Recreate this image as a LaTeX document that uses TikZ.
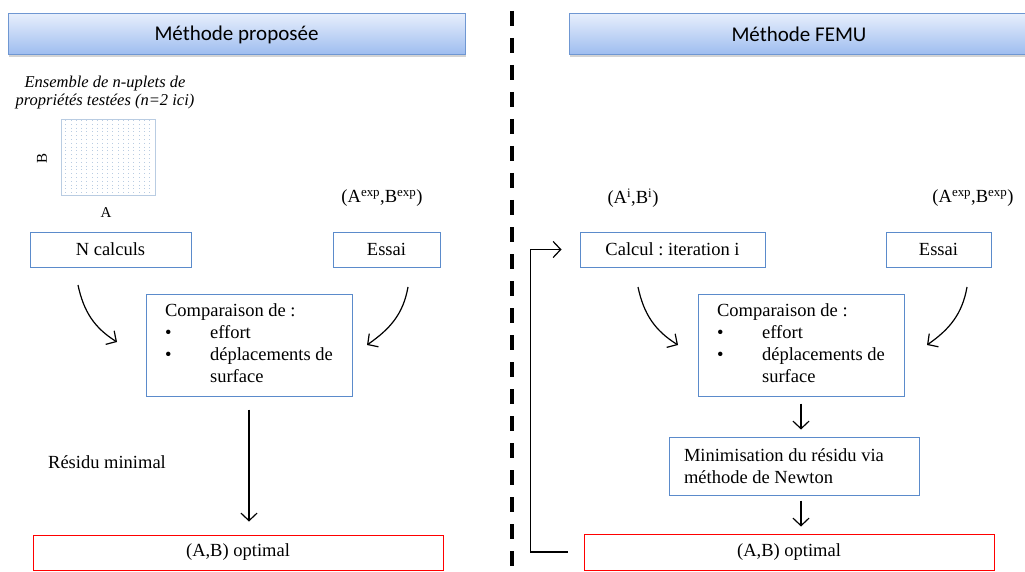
\documentclass[tikz,border=0pt]{standalone}
\usepackage{fontspec}
\setmainfont{Liberation Serif}
\newfontfamily\headfont{Carlito}
\usetikzlibrary{arrows.meta,shadows}
\frenchspacing

\definecolor{titleedge}{HTML}{6F97D2}
\definecolor{titletop}{HTML}{E6EEFC}
\definecolor{titlebot}{HTML}{9DBCEF}
\definecolor{boxblue}{HTML}{5B8BCB}
\definecolor{gridblue}{HTML}{B9CCE2}

\tikzset{
  titlebar/.style={draw=titleedge, line width=1pt, top color=titletop, bottom color=titlebot,
    minimum width=457pt, minimum height=41pt,
    drop shadow={shadow xshift=1pt, shadow yshift=-2.5pt, opacity=0.35},
    font=\headfont\fontsize{21}{25}\selectfont},
  box/.style={draw=boxblue, line width=1pt, fill=white, inner sep=0pt,
    font=\fontsize{18.5}{22}\selectfont},
  redbox/.style={box, draw=red},
  label/.style={inner sep=0pt, font=\fontsize{18.5}{22}\selectfont},
  arr/.style={-{Straight Barb[length=7.5pt,width=16pt]}, line width=1.2pt},
  griddot/.style={gridblue, line width=0.7pt, dash pattern=on 0.7pt off 3.1pt},
}

% text of the two comparison boxes
\newcommand{\comparetext}{%
  \begin{tabular}{@{}p{45pt}@{}l@{}}
    \multicolumn{2}{@{}l@{}}{Comparaison de :}\\
    \textbullet & effort\\
    \textbullet & déplacements de\\
                & surface
  \end{tabular}}

\begin{document}
\begin{tikzpicture}[x=1pt, y=-1pt]
  \useasboundingbox (0,0) rectangle (1025,572);

  % Separator between the two methods
  \draw[line width=4pt, dash pattern=on 15pt off 12pt] (512,11) -- (512,572);

  % ---------------- Left: proposed method ----------------
  \node[titlebar] (title1) at (236.5,34.5) {Méthode proposée};

  \node[label, align=center, font=\itshape\fontsize{16.5}{18}\selectfont] (ensemble) at (105,93)
    {Ensemble de n-uplets de\\propriétés testées (n=2 ici)};

  % Grid of tested couples
  \node[draw=gridblue, line width=0.8pt, minimum width=94pt, minimum height=76pt, inner sep=0pt]
    (plot) at (108,157) {};
  \begin{scope}[shift={(plot.north west)}]
    \foreach \i in {1,...,17}
      \draw[griddot] (\i*5.22,1.5) -- (\i*5.22,76);
  \end{scope}
  \node[label, rotate=90, font=\fontsize{15}{18}\selectfont] (axisB) at (42,158) {B};
  \node[label, font=\fontsize{15}{18}\selectfont] (axisA) at (106,213) {A};

  \node[label] (exp1) at (382,198) {(A\textsuperscript{exp},B\textsuperscript{exp})};

  \node[box, minimum width=161pt, minimum height=35pt] (ncalc) at (110.5,249.5) {N calculs};
  \node[box, minimum width=107pt, minimum height=35pt] (essai1) at (386.5,249.5) {Essai};
  \node[box, minimum width=206pt, minimum height=102pt] (comp1) at (249,345) {\comparetext};
  \node[label] (residu) at (107,462) {Résidu minimal};
  \node[redbox, minimum width=410pt, minimum height=35pt] (opt1) at (238,552.5) {(A,B) optimal};

  \coordinate (n1) at (78,285);   \coordinate (n2) at (117,342);
  \coordinate (e1) at (408,287);  \coordinate (e2) at (367,345);
  \draw[arr] (n1) to[out=-78, in=148] (n2);
  \draw[arr] (e1) to[out=-100, in=35] (e2);
  \draw[arr, shorten <=13pt, shorten >=13pt] (comp1.south) -- (comp1.south |- opt1.north);

  % ---------------- Right: FEMU ----------------
  \node[titlebar, minimum width=460pt] (title2) at (799,34.5) {Méthode FEMU};

  \node[label] (iter) at (633,198) {(A\textsuperscript{i},B\textsuperscript{i})};
  \node[label] (exp2) at (973,198) {(A\textsuperscript{exp},B\textsuperscript{exp})};

  \node[box, minimum width=185pt, minimum height=35pt] (calc) at (672.5,249.5) {Calcul : iteration i};
  \node[box, minimum width=105pt, minimum height=35pt] (essai2) at (938.5,249.5) {Essai};
  \node[box, minimum width=206pt, minimum height=102pt] (comp2) at (801,345) {\comparetext};
  \node[box, minimum width=250pt, minimum height=58pt, text width=220pt, align=flush left] (newton) at (794,466)
    {Minimisation du résidu via\\méthode de Newton};
  \node[redbox, minimum width=410pt, minimum height=36pt] (opt2) at (789,552) {(A,B) optimal};

  \coordinate (c1) at (638,287);  \coordinate (c2) at (678,345);
  \coordinate (f1) at (967,287);  \coordinate (f2) at (927,345);
  \draw[arr] (c1) to[out=-78, in=148] (c2);
  \draw[arr] (f1) to[out=-100, in=35] (f2);
  \draw[arr, shorten <=7pt, shorten >=7pt] (comp2.south) -- (comp2.south |- newton.north);
  \draw[arr, shorten <=5pt, shorten >=7pt] (comp2.south |- newton.south) -- (comp2.south |- opt2.north);

  % loop back to the next iteration
  \draw[arr, shorten <=16pt, shorten >=18pt] (opt2.west) -- ++(-53,0) |- (calc.west);
\end{tikzpicture}
\end{document}
